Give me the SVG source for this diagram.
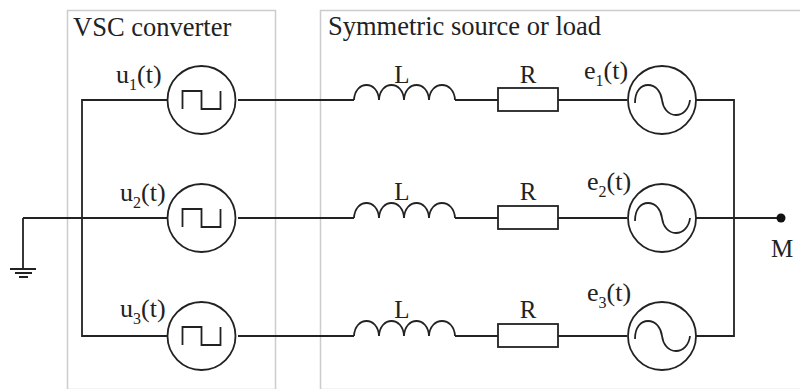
<svg xmlns="http://www.w3.org/2000/svg" width="800" height="389" viewBox="0 0 800 389">
<defs>
<style>
.w{fill:none;stroke:#222;stroke-width:1.8}
.t{font-family:"Liberation Serif",serif;fill:#222}
.l{font-size:26px}
.c{font-size:25px}
.h{font-size:26.500px}
.s{font-size:16px}
.f{fill:none;stroke:#ccc;stroke-width:1.5}
</style>
<g id="sq"><circle cx="0" cy="0" r="34" class="w"/><path d="M-19 9V-9H0V9H19V-9" class="w"/></g>
<g id="ac"><circle cx="0" cy="0" r="34" class="w"/><path d="M-27 3C-27 -9 -21 -15 -14 -15C-6 -15 -1 -8 0 0C1 8 6 15 14 15C21 15 27 9 28 0" class="w"/></g>
<g id="ind"><path d="M0 0C1 -20 24 -20 25 0C26 -20 49 -20 50 0C51 -20 74 -20 75 0C76 -20 100 -20 101 0" class="w"/></g>
</defs>
<g id="frames">
<rect x="67.500" y="10.500" width="208" height="379" class="f"/>
<rect x="320.500" y="10.500" width="500" height="379" class="f"/>
</g>
<g id="connectors">
<path class="w" d="M167 100H82V336H167M23 218H167M238 100H354M238 218H354M238 336H354M455 100H498M455 218H498M455 336H498M558 100H627M558 218H627M558 336H627M696 100H734V336H696M696 218H780"/>
</g>
<g id="labels">
<text class="t h" x="73" y="36">VSC converter</text>
<text class="t h" x="328" y="35">Symmetric source or load</text>
</g>
<g id="u1"><use href="#sq" x="201.500" y="100"/><text class="t l" x="116" y="83">u<tspan class="s" dy="7">1</tspan><tspan dy="-7">(t)</tspan></text></g>
<g id="u2"><use href="#sq" x="201.500" y="218"/><text class="t l" x="120" y="201">u<tspan class="s" dy="7">2</tspan><tspan dy="-7">(t)</tspan></text></g>
<g id="u3"><use href="#sq" x="201.500" y="336"/><text class="t l" x="120" y="317">u<tspan class="s" dy="7">3</tspan><tspan dy="-7">(t)</tspan></text></g>
<g id="L1"><use href="#ind" x="354" y="100"/><text class="t c" x="402" y="83" text-anchor="middle">L</text></g>
<g id="L2"><use href="#ind" x="354" y="218"/><text class="t c" x="402" y="200" text-anchor="middle">L</text></g>
<g id="L3"><use href="#ind" x="354" y="336"/><text class="t c" x="402" y="318" text-anchor="middle">L</text></g>
<g id="R1"><rect x="498" y="88" width="60" height="23" class="w"/><text class="t c" x="528" y="83" text-anchor="middle">R</text></g>
<g id="R2"><rect x="498" y="206" width="60" height="23" class="w"/><text class="t c" x="528" y="200" text-anchor="middle">R</text></g>
<g id="R3"><rect x="498" y="324" width="60" height="23" class="w"/><text class="t c" x="528" y="318" text-anchor="middle">R</text></g>
<g id="e1"><use href="#ac" x="662" y="100"/><text class="t l" x="584" y="79">e<tspan class="s" dy="7">1</tspan><tspan dy="-7">(t)</tspan></text></g>
<g id="e2"><use href="#ac" x="662" y="218"/><text class="t l" x="587" y="190">e<tspan class="s" dy="7">2</tspan><tspan dy="-7">(t)</tspan></text></g>
<g id="e3"><use href="#ac" x="662" y="336"/><text class="t l" x="587" y="301">e<tspan class="s" dy="7">3</tspan><tspan dy="-7">(t)</tspan></text></g>
<g id="M"><circle cx="781" cy="218" r="4.500" fill="#111"/><text class="t c" x="782" y="257" text-anchor="middle">M</text></g>
<g id="ground"><path class="w" d="M23 218V269M10 269H36M15 273H32M19 277H28"/></g>
</svg>
